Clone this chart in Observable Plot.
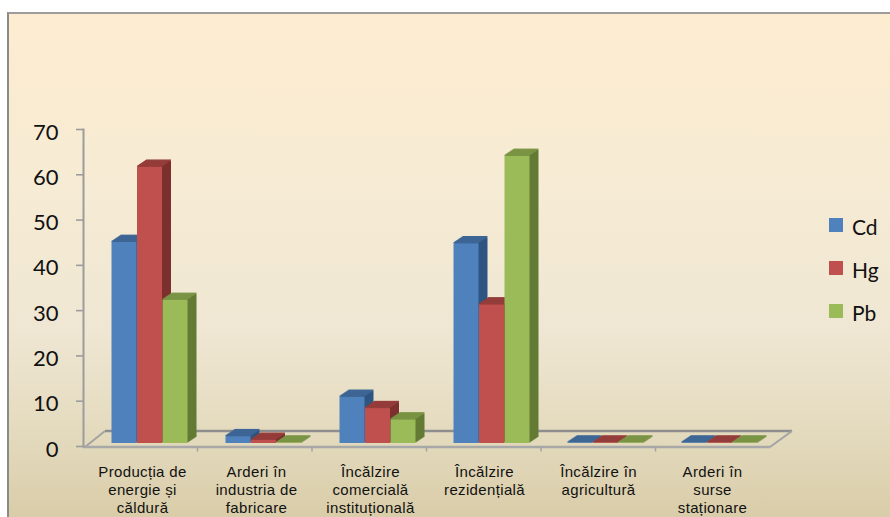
<!DOCTYPE html>
<html>
<head>
<meta charset="utf-8">
<script src="https://cdn.jsdelivr.net/npm/d3@7"></script>
<script src="https://cdn.jsdelivr.net/npm/@observablehq/plot@0.6"></script>
<style>
  html, body { margin: 0; padding: 0; background: #ffffff; }
  #panel {
    position: absolute; left: 7px; top: 12px; width: 883px; height: 505px;
    border-left: 2px solid #8a8a8a; border-top: 2px solid #9c9c9c;
    background: linear-gradient(180deg, #fdecd0 0%, #f6ebd4 35%, #efe7d3 62%, #e4dbbf 82%, #d9cca8 100%);
  }
  #chart { position: absolute; left: 0; top: 0; width: 890px; height: 517px; }
  #chart svg { position: absolute; left: 0; top: 0; }
  #chart g[aria-label="x-axis tick label"] text { letter-spacing: 0.35px; }
</style>
</head>
<body>
<div id="panel"></div>
<div id="chart"></div>
<script>
// Emission sources (x categories)
const categories = [
  "Producția de\nenergie și\ncăldură",
  "Arderi în\nindustria de\nfabricare",
  "Încălzire\ncomercială\ninstituțională",
  "Încălzire\nrezidențială",
  "Încălzire în\nagricultură",
  "Arderi în\nsurse\nstaționare"
];

// Heavy metals (series)
const seriesNames = ["Cd", "Hg", "Pb"];
const cdValues = [44.4, 1.5, 10.2, 44.1, 0.1, 0.1];
const hgValues = [61.0, 0.7, 7.7, 30.6, 0.1, 0.1];
const pbValues = [31.6, 0.1, 5.2, 63.4, 0.1, 0.1];
const yTicks = [0, 10, 20, 30, 40, 50, 60, 70];

// Colours: front face, top face, side face of each series
const frontColors = ["#4f81bd", "#c0504d", "#9bbb59"];
const topColors = ["#3e6695", "#953d3b", "#7a9444"];
const sideColors = ["#2f5482", "#7b302e", "#637b35"];

// Layout of the pseudo-3D columns
const W = 890, H = 517;
const margin = {top: 129, right: 120, bottom: 71, left: 83};
const bandwidth = (W - margin.left - margin.right) / categories.length;
const barWidth = 25.5;
const inset = (bandwidth - barWidth) / 2;
const seriesShift = [-18, 7.5, 33];   // horizontal position of each bar within its group
const depthX = 9, depthY = 6, lift = -3;
const floorDX = 22, floorDY = 16;

const seriesValues = [cdValues, hgValues, pbValues];
const rowsBySeries = seriesValues.map(vals =>
  categories.map((category, i) => ({category, value: vals[i]}))
);

// Floor outline and category separators, drawn from the plot's scales
function floor(index, scales, values, dimensions) {
  const dim = dimensions || {};
  const y0 = scales.y(0) + 1;
  const x0 = dim.marginLeft ?? margin.left;
  const x1 = (dim.width ?? W) - (dim.marginRight ?? margin.right);
  const g = d3.create("svg:g").attr("fill", "none");
  g.append("line").attr("x1", x0 + floorDX).attr("x2", x1 + floorDX)
    .attr("y1", y0 - floorDY).attr("y2", y0 - floorDY)
    .attr("stroke", "#8e8e8e").attr("stroke-width", 2.5);
  g.append("line").attr("x1", x0 + 2).attr("x2", x0 + floorDX)
    .attr("y1", y0).attr("y2", y0 - floorDY)
    .attr("stroke", "#a3a3a3").attr("stroke-width", 2);
  g.append("line").attr("x1", x1).attr("x2", x1 + floorDX)
    .attr("y1", y0).attr("y2", y0 - floorDY)
    .attr("stroke", "#a3a3a3").attr("stroke-width", 2);
  g.append("line").attr("x1", x0).attr("x2", x1)
    .attr("y1", y0).attr("y2", y0)
    .attr("stroke", "#a8a8a8").attr("stroke-width", 2.5);
  const step = (x1 - x0) / categories.length;
  for (let i = 1; i < categories.length; ++i) {
    g.append("line").attr("x1", x0 + i * step).attr("x2", x0 + i * step)
      .attr("y1", y0).attr("y2", y0 + 4.5)
      .attr("stroke", "#a3a3a3").attr("stroke-width", 1.5);
  }
  return g.node();
}

// Extruded columns: side layers, top face, then front face
const columnMarks = [];
seriesNames.forEach((name, s) => {
  const rows = rowsBySeries[s];
  for (let i = depthX; i >= 1; --i) {
    columnMarks.push(Plot.barY(rows, {
      x: "category", y: "value", insetLeft: inset, insetRight: inset,
      dx: seriesShift[s] + i, dy: lift - i * depthY / depthX, fill: sideColors[s]
    }));
  }
  for (let i = depthX; i >= 0; --i) {
    columnMarks.push(Plot.barY(rows, {
      x: "category", y1: "value", y2: "value", insetTop: -1.3,
      insetLeft: inset, insetRight: inset,
      dx: seriesShift[s] + i, dy: lift - i * depthY / depthX, fill: topColors[s]
    }));
  }
  columnMarks.push(Plot.barY(rows, {
    x: "category", y: "value", insetLeft: inset, insetRight: inset,
    dx: seriesShift[s], dy: lift, fill: frontColors[s]
  }));
});

const chart = Plot.plot({
  width: W,
  height: H,
  marginTop: margin.top,
  marginRight: margin.right,
  marginBottom: margin.bottom,
  marginLeft: margin.left,
  style: {background: "transparent", color: "#000", overflow: "visible"},
  x: {domain: categories, padding: 0},
  y: {domain: [0, 70]},
  marks: [
    floor,
    Plot.axisY({ticks: yTicks, tickSize: 7, tickFormat: () => "", label: null, stroke: "#9c9c9c", strokeWidth: 1.6}),
    Plot.frame({anchor: "left", stroke: "#9c9c9c", strokeWidth: 2}),
    Plot.text(yTicks, {
      y: d => d, text: d => String(d), frameAnchor: "left", dx: -25, dy: 3,
      textAnchor: "end", fontSize: 22, fontFamily: "Lato", fill: "#111"
    }),
    Plot.axisX({
      tickSize: 0, tickPadding: 17, fontSize: 15, lineHeight: 1.23,
      fontFamily: "'Liberation Sans', Arial, sans-serif", fill: "#111", label: null
    }),
    ...columnMarks
  ]
});

const host = document.getElementById("chart");
host.appendChild(chart);

// Vertical legend on the right
const legend = d3.select(host).append("svg")
  .attr("width", W).attr("height", H)
  .style("pointer-events", "none");
const item = legend.selectAll("g").data(seriesNames).join("g")
  .attr("transform", (d, i) => `translate(829, ${218 + i * 43})`);
item.append("rect").attr("width", 14).attr("height", 14)
  .attr("fill", (d, i) => frontColors[i]);
item.append("text").attr("x", 23).attr("y", 16.5)
  .attr("font-family", "Lato").attr("font-size", 21).attr("fill", "#111")
  .text(d => d);
</script>
</body>
</html>
